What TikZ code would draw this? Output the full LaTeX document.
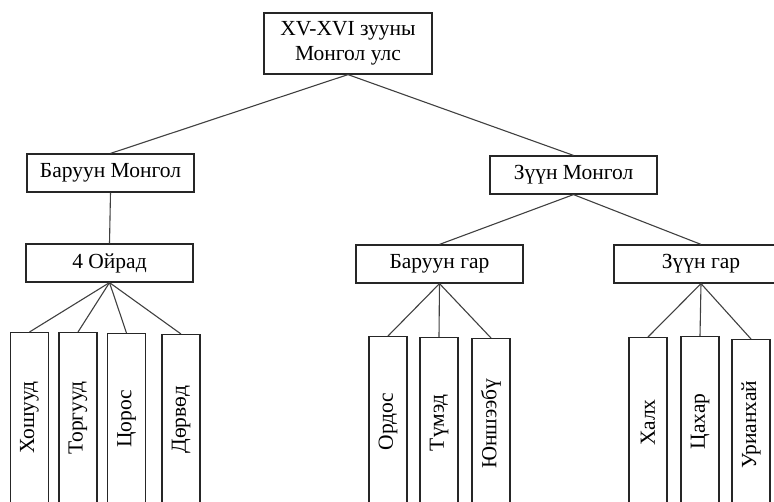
\documentclass[tikz,border=0pt]{standalone}
\usepackage{fontspec}
\setmainfont{Liberation Serif}
\begin{document}
\begin{tikzpicture}[x=1pt,y=-1pt,
  box/.style={draw=black!85,line width=1.2pt,inner sep=0pt,minimum height=38pt,font=\fontsize{21.5}{25}\selectfont},
  leaf/.style={draw=black!85,line width=1.2pt,inner sep=0pt,rotate=90,anchor=east,minimum height=38pt,minimum width=170pt,font=\fontsize{21.5}{25}\selectfont},
  conn/.style={draw=black!75,line width=1.1pt}]
\useasboundingbox (0,0) rectangle (774,501);
\clip (0,0) rectangle (774,501);
\node[box,minimum width=168pt,minimum height=61pt,align=center] (top) at (348,43.5) {XV-XVI зууны\\Монгол улс};
\node[box,minimum width=167pt] (bm) at (110.5,173) {Баруун Монгол};
\node[box,minimum width=167pt] (zm) at (573.5,175) {Зүүн Монгол};
\node[box,minimum width=167pt] (oi) at (109.5,263) {4 Ойрад};
\node[box,minimum width=167pt] (bg) at (439.5,264) {Баруун гар};
\node[box,minimum width=174pt] (zg) at (701,264) {Зүүн гар};
\node[leaf] (l1) at (29.5,332) {Хошууд};
\node[leaf] (l2) at (78,332) {Торгууд};
\node[leaf] (l3) at (126.5,333) {Цорос};
\node[leaf] (l4) at (181,334) {Дөрвөд};
\node[leaf] (r1) at (388,336) {Ордос};
\node[leaf] (r2) at (439,337) {Түмэд};
\node[leaf] (r3) at (491,338) {Юншээбү};
\node[leaf] (z1) at (648,337) {Халх};
\node[leaf] (z2) at (700,336) {Цахар};
\node[leaf] (z3) at (751,339) {Урианхай};
\draw[conn] (top.south) -- (bm.north);
\draw[conn] (top.south) -- (zm.north);
\draw[conn] (bm.south) -- (oi.north);
\draw[conn] (zm.south) -- (bg.north);
\draw[conn] (zm.south) -- (zg.north);
\foreach \n in {l1,l2,l3,l4} \draw[conn] (oi.south) -- (\n.east);
\foreach \n in {r1,r2,r3} \draw[conn] (bg.south) -- (\n.east);
\foreach \n in {z1,z2,z3} \draw[conn] (zg.south) -- (\n.east);
\end{tikzpicture}
\end{document}
